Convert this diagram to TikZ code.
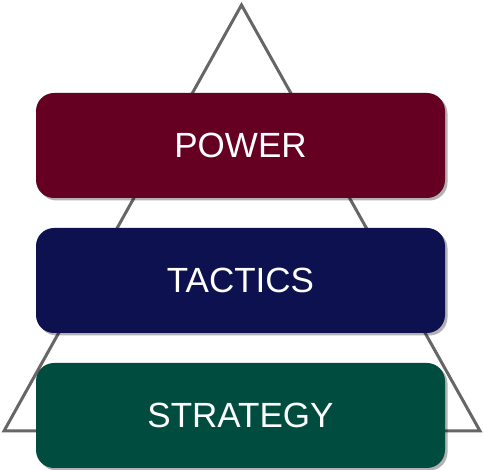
\documentclass[tikz,border=0pt]{standalone}
\usepackage{fontspec}
\setmainfont{Liberation Sans}
\usetikzlibrary{shadows}
\definecolor{powerc}{HTML}{660022}
\definecolor{tacticsc}{HTML}{0D1150}
\definecolor{strategyc}{HTML}{004D40}
\definecolor{trigray}{HTML}{666666}
\begin{document}
\begin{tikzpicture}[x=1pt,y=-1pt,
  level/.style={rectangle, rounded corners=18pt, minimum width=409pt, minimum height=105pt,
    inner sep=0pt, text=white, font=\fontsize{35}{40}\selectfont,
    drop shadow={shadow xshift=2.5pt, shadow yshift=-2.5pt, opacity=0.3, fill=black}},
  tri/.style={draw=trigray, line width=3pt, line join=miter}]
\useasboundingbox (0,0) rectangle (483,470);
\coordinate (apex) at (241.5,5);
\coordinate (bl) at (4,431);
\coordinate (br) at (480,431);
\draw[tri] (apex) -- (bl) -- (br) -- cycle;
\node[level, fill=powerc] (power) at (240.5,145.5) {POWER};
\node[level, fill=tacticsc] (tactics) at (240.5,280.5) {TACTICS};
\node[level, fill=strategyc] (strategy) at (240.5,415.5) {STRATEGY};
\end{tikzpicture}
\end{document}
